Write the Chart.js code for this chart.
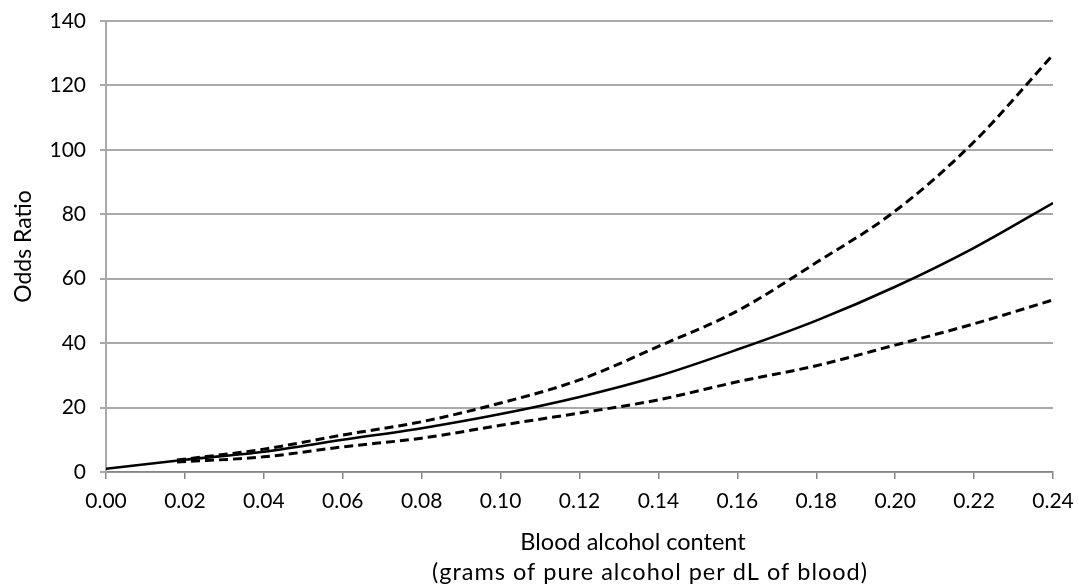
<!DOCTYPE html>
<html>
<head>
<meta charset="utf-8">
<script src="https://cdn.jsdelivr.net/npm/chart.js@4/dist/chart.umd.min.js"></script>
<style>
  html, body { margin: 0; padding: 0; background: #ffffff; }
  #wrap { width: 1079px; height: 585px; position: relative; }
</style>
</head>
<body>
<div id="wrap"><canvas id="c" width="1079" height="585"></canvas></div>
<script>
// ---- data ----
const xTickLabels = ['0.00','0.02','0.04','0.06','0.08','0.10','0.12','0.14','0.16','0.18','0.20','0.22','0.24'];
const yTickLabels = ['0','20','40','60','80','100','120','140'];

const bacEstimate = [0.00, 0.02, 0.04, 0.06, 0.08, 0.10, 0.12, 0.14, 0.16, 0.18, 0.20, 0.22, 0.24];
const oddsEstimate = [1, 3.8, 6.3, 10, 13.6, 18, 23.3, 29.8, 38, 47, 57.5, 69.6, 83.5];

const bacBounds = [0.018, 0.04, 0.06, 0.08, 0.10, 0.12, 0.14, 0.16, 0.18, 0.20, 0.22, 0.24];
const oddsUpper = [3.7, 7.1, 11.5, 15.6, 21.4, 28.6, 39, 50, 65, 81, 102.5, 129.5];
const oddsLower = [3.1, 4.7, 7.8, 10.5, 14.5, 18.3, 22.4, 28, 33, 39.4, 46, 53.4];

const xTitleLines = ['Blood alcohol content', '(grams of pure alcohol per dL of blood)'];
const yTitle = 'Odds Ratio';

const FONT = 'Lato, "Open Sans", "DejaVu Sans", sans-serif';

function pts(xs, ys) { return xs.map((x, i) => ({ x: x, y: ys[i] })); }

const xTitlePlugin = {
  id: 'xTitlePlugin',
  afterDraw(chart) {
    const ctx = chart.ctx;
    ctx.save();
    ctx.fillStyle = '#000000';
    ctx.font = '23.5px ' + FONT;
    ctx.textAlign = 'center';
    ctx.textBaseline = 'alphabetic';
    ctx.fillText(xTitleLines[0], 633, 550);
    if ('letterSpacing' in ctx) ctx.letterSpacing = '1px';
    ctx.fillText(xTitleLines[1], 650, 580);
    ctx.restore();
  }
};

new Chart(document.getElementById('c'), {
  type: 'line',
  data: {
    datasets: [
      {
        label: 'Upper',
        data: pts(bacBounds, oddsUpper),
        borderColor: '#000000',
        borderWidth: 3,
        borderDash: [9, 5],
        pointRadius: 0,
        cubicInterpolationMode: 'monotone',
        fill: false
      },
      {
        label: 'Estimate',
        data: pts(bacEstimate, oddsEstimate),
        borderColor: '#000000',
        borderWidth: 2.6,
        pointRadius: 0,
        cubicInterpolationMode: 'monotone',
        fill: false
      },
      {
        label: 'Lower',
        data: pts(bacBounds, oddsLower),
        borderColor: '#000000',
        borderWidth: 3,
        borderDash: [9, 5],
        pointRadius: 0,
        cubicInterpolationMode: 'monotone',
        fill: false
      }
    ]
  },
  options: {
    responsive: false,
    animation: false,
    devicePixelRatio: 1,
    layout: { padding: { top: 21, right: 26, bottom: 0, left: 0 } },
    plugins: { legend: { display: false }, tooltip: { enabled: false } },
    scales: {
      x: {
        type: 'linear',
        min: 0,
        max: 0.24,
        afterBuildTicks(scale) {
          scale.ticks = xTickLabels.map(v => ({ value: parseFloat(v) }));
        },
        afterFit(scale) {
          scale.height = 113;
          scale.paddingLeft = 0;
          scale.paddingRight = 0;
        },
        ticks: {
          color: '#000000',
          font: { family: FONT, size: 21 },
          padding: 10,
          maxRotation: 0,
          autoSkip: false,
          callback: (v, i) => xTickLabels[i]
        },
        grid: {
          drawOnChartArea: false,
          drawTicks: true,
          tickLength: 7,
          color: '#868686',
          lineWidth: 1.5
        },
        border: { display: true, color: '#868686', width: 1.5 },
        title: { display: false }
      },
      y: {
        type: 'linear',
        min: 0,
        max: 140,
        afterBuildTicks(scale) {
          scale.ticks = yTickLabels.map(v => ({ value: parseFloat(v) }));
        },
        afterFit(scale) {
          scale.width = 106;
          scale.paddingTop = 0;
          scale.paddingBottom = 0;
        },
        ticks: {
          color: '#000000',
          font: { family: FONT, size: 21 },
          padding: 14,
          callback: (v, i) => yTickLabels[i]
        },
        grid: {
          color: '#a9a9a9',
          lineWidth: 2,
          drawTicks: true,
          tickLength: 6
        },
        border: { display: true, color: '#a9a9a9', width: 2 },
        title: {
          display: true,
          text: yTitle,
          color: '#000000',
          font: { family: FONT, size: 23 },
          padding: { top: 10, bottom: 0 }
        }
      }
    }
  },
  plugins: [xTitlePlugin]
});
</script>
</body>
</html>
